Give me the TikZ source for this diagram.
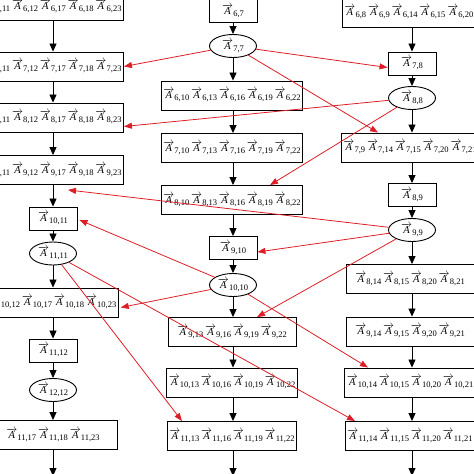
\documentclass[tikz,border=0pt]{standalone}
\usepackage{fontspec}
\setmainfont{Liberation Serif}
\usetikzlibrary{shapes.geometric,arrows.meta}
\definecolor{depred}{RGB}{222,30,38}
\newcommand{\Av}[1]{$\overrightarrow{\mbox{\itshape A}}$\kern0.2pt\raisebox{-0.4ex}{\fontsize{8.5}{10}\selectfont #1}}
\newcommand{\nodefnt}{\fontsize{10.5}{12}\selectfont\spaceskip 1.8pt plus 0.5pt\relax}
\tikzset{
  nodefont/.style={font=\nodefnt},
  bigbox/.style={draw, fill=white, line width=0.9pt, minimum width=128pt, minimum height=29pt, inner xsep=2pt, inner ysep=0pt, nodefont},
  smallbox/.style={draw, fill=white, line width=0.9pt, minimum width=48pt, minimum height=23pt, inner sep=0pt, nodefont},
  pivot/.style={ellipse, draw, fill=white, line width=0.9pt, minimum width=47pt, minimum height=23pt, inner sep=0pt, nodefont},
  flow/.style={-{Triangle[length=8pt,width=7pt]}, line width=0.8pt},
  dep/.style={-{Triangle[length=8pt,width=6pt]}, line width=0.8pt, draw=depred}
}
\begin{document}
\begin{tikzpicture}[x=1pt,y=-1pt]
\useasboundingbox (0,0) rectangle (474,474);
\clip (0,0) rectangle (474,474);
% left column
\node[bigbox] (L1) at (53,6) {\Av{6,11} \Av{6,12} \Av{6,17} \Av{6,18} \Av{6,23}};
\node[bigbox] (L2) at (53,66.5) {\Av{7,11} \Av{7,12} \Av{7,17} \Av{7,18} \Av{7,23}};
\node[bigbox] (L3) at (53,117.5) {\Av{8,11} \Av{8,12} \Av{8,17} \Av{8,18} \Av{8,23}};
\node[bigbox] (L4) at (53,170) {\Av{9,11} \Av{9,12} \Av{9,17} \Av{9,18} \Av{9,23}};
\node[smallbox] (L5) at (53,218.5) {\Av{10,11}};
\node[pivot] (L6) at (53,253.5) {\Av{11,11}};
\node[bigbox] (L7) at (53,302.5) {\Av{10,12} \Av{10,17} \Av{10,18} \Av{10,23}};
\node[smallbox] (L8) at (53,350.5) {\Av{11,12}};
\node[pivot] (L9) at (53,390) {\Av{12,12}};
\node[bigbox] (L10) at (53,435) {\Av{11,17} \Av{11,18} \Av{11,23}};
\coordinate (Lb) at (53,476);
% middle column
\node[smallbox] (M1) at (233,11) {\Av{6,7}};
\node[pivot] (M2) at (233,46) {\Av{7,7}};
\node[bigbox] (M3) at (232,95.5) {\Av{6,10} \Av{6,13} \Av{6,16} \Av{6,19} \Av{6,22}};
\node[bigbox] (M4) at (232,148) {\Av{7,10} \Av{7,13} \Av{7,16} \Av{7,19} \Av{7,22}};
\node[bigbox] (M5) at (232,200) {\Av{8,10} \Av{8,13} \Av{8,16} \Av{8,19} \Av{8,22}};
\node[smallbox] (M6) at (233,248) {\Av{9,10}};
\node[pivot] (M7) at (233,285) {\Av{10,10}};
\node[bigbox] (M8) at (232,332) {\Av{9,13} \Av{9,16} \Av{9,19} \Av{9,22}};
\node[bigbox] (M9) at (232,382.5) {\Av{10,13} \Av{10,16} \Av{10,19} \Av{10,22}};
\node[bigbox] (M10) at (232,436) {\Av{11,13} \Av{11,16} \Av{11,19} \Av{11,22}};
\coordinate (Mb) at (232,476);
% right column
\node[bigbox, anchor=west, minimum width=138pt] (R1) at (342,12.5) {\Av{6,8} \Av{6,9} \Av{6,14} \Av{6,15} \Av{6,20} \Av{6,21}};
\node[smallbox] (R2) at (412,63.5) {\Av{7,8}};
\node[pivot] (R3) at (412,98) {\Av{8,8}};
\node[bigbox] (R4) at (410,147.5) {\Av{7,9} \Av{7,14} \Av{7,15} \Av{7,20} \Av{7,21}};
\node[smallbox] (R5) at (412,195) {\Av{8,9}};
\node[pivot] (R6) at (412,230) {\Av{9,9}};
\node[bigbox] (R7) at (410,279) {\Av{8,14} \Av{8,15} \Av{8,20} \Av{8,21}};
\node[bigbox] (R8) at (410,331.5) {\Av{9,14} \Av{9,15} \Av{9,20} \Av{9,21}};
\node[bigbox] (R9) at (410,382.5) {\Av{10,14} \Av{10,15} \Av{10,20} \Av{10,21}};
\node[bigbox] (R10) at (410,436) {\Av{11,14} \Av{11,15} \Av{11,20} \Av{11,21}};
\coordinate (Rb) at (410,476);
% black flow arrows
\draw[flow] (L1) -- (L2);
\draw[flow] (L2) -- (L3);
\draw[flow] (L3) -- (L4);
\draw[flow] (L4) -- (L5);
\draw[flow] (L5) -- (L6);
\draw[flow] (L6) -- (L7);
\draw[flow] (L7) -- (L8);
\draw[flow] (L8) -- (L9);
\draw[flow] (L9) -- (L10);
\draw[flow] (L10) -- (Lb);
\draw[flow] (M1) -- (M2);
\draw[flow] (M2) -- (M2 |- M3.north);
\draw[flow] (M3.south -| M2) -- (M2 |- M4.north);
\draw[flow] (M4.south -| M2) -- (M2 |- M5.north);
\draw[flow] (M5.south -| M2) -- (M6);
\draw[flow] (M6) -- (M7);
\draw[flow] (M7) -- (M2 |- M8.north);
\draw[flow] (M8.south -| M2) -- (M2 |- M9.north);
\draw[flow] (M9.south -| M2) -- (M2 |- M10.north);
\draw[flow] (M10.south -| M2) -- (M2 |- Mb);
\draw[flow] (R1.south -| R2) -- (R2);
\draw[flow] (R2) -- (R3);
\draw[flow] (R3) -- (R3 |- R4.north);
\draw[flow] (R4.south -| R3) -- (R5);
\draw[flow] (R5) -- (R6);
\draw[flow] (R6) -- (R3 |- R7.north);
\draw[flow] (R7.south -| R3) -- (R3 |- R8.north);
\draw[flow] (R8.south -| R3) -- (R3 |- R9.north);
\draw[flow] (R9.south -| R3) -- (R3 |- R10.north);
\draw[flow] (R10.south -| R3) -- (R3 |- Rb);
% red dependency arrows
\draw[dep] (M2) -- (L2.east);
\draw[dep] (M2) -- ([yshift=-4pt]R2.west);
\draw[dep] (M2) -- ([xshift=-32pt]R4.north);
\draw[dep] (R3) -- ([yshift=-9pt]L3.east);
\draw[dep] (R3) -- ([xshift=38pt]M5.north);
\draw[dep] (R6) -- ([xshift=15pt,yshift=-5pt]L4.south);
\draw[dep] (R6) -- ([yshift=-4pt]M6.east);
\draw[dep] (R6) -- ([xshift=25pt]M8.north);
\draw[dep] (M7) -- ([xshift=2pt,yshift=-1.5pt]L5.east);
\draw[dep] (M7) -- ([xshift=2pt,yshift=-5pt]L7.east);
\draw[dep] (M7) -- ([xshift=-42pt]R9.north);
\draw[dep] (L6) -- ([xshift=-50pt]M10.north);
\draw[dep] (L6) -- ([xshift=-55pt]R10.north);
\end{tikzpicture}
\end{document}
